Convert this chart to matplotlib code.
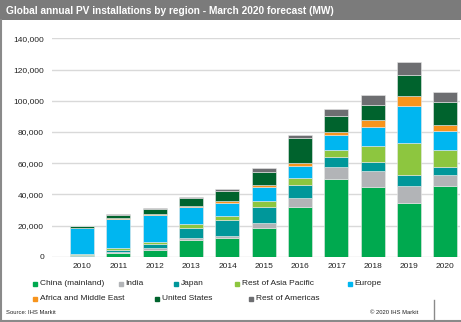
import numpy as np
import matplotlib
matplotlib.use("Agg")
import matplotlib.pyplot as plt
from matplotlib.patches import Rectangle
from matplotlib.lines import Line2D

plt.rcParams['font.family'] = ['Liberation Sans', 'DejaVu Sans']

# Annual PV installations (MW) by region
years = ["2010", "2011", "2012", "2013", "2014", "2015", "2016", "2017", "2018", "2019", "2020"]
china = [300, 2200, 4500, 10900, 12200, 18200, 32000, 49800, 44500, 34600, 45300]
india = [100, 600, 900, 1100, 1100, 3200, 5600, 7900, 10600, 10700, 6900]
japan = [600, 1500, 2600, 6600, 10300, 10400, 8300, 6200, 5800, 6900, 5500]
rest_apac = [800, 1100, 1300, 2600, 2800, 3800, 4500, 4500, 9900, 21000, 10900]
europe = [16500, 19000, 17500, 10900, 8000, 9000, 7700, 9800, 12200, 23300, 12200]
africa_me = [100, 700, 600, 650, 1500, 1300, 1900, 1500, 4500, 6400, 3800]
united_states = [1200, 1500, 3200, 4700, 6200, 8300, 16200, 10700, 10000, 13700, 14700]
rest_americas = [100, 600, 800, 850, 1300, 2600, 1700, 4100, 6000, 8100, 6200]

regions = ["China (mainland)", "India", "Japan", "Rest of Asia Pacific", "Europe",
           "Africa and Middle East", "United States", "Rest of Americas"]
series = [china, india, japan, rest_apac, europe, africa_me, united_states, rest_americas]
colors = ["#00a94f", "#b2b4b7", "#00979a", "#8dc63f", "#00b6f0",
          "#f7941d", "#00632d", "#6d6e71"]

W, H = 461, 322
fig = plt.figure(figsize=(W / 100, H / 100), dpi=100)

def px(x, y):
    # pixel position (from top-left) -> figure fraction
    return x / W, 1 - y / H

# title band
fig.patches.append(Rectangle(px(0, 20), 1, 20 / H, transform=fig.transFigure,
                             facecolor="#7b7b7b", edgecolor="none", zorder=0))
fig.text(*px(6, 10.5), "Global annual PV installations by region - March 2020 forecast (MW)",
         color="white", fontsize=7.3, fontweight="bold", va="center", ha="left")

# frame lines
fig.add_artist(Line2D([1 / W, 1 / W], [1 - 20 / H, 1 - 320.5 / H], transform=fig.transFigure,
                      color="#8a8a8a", lw=1.5))
fig.add_artist(Line2D([0, 1], [1 - 320.5 / H, 1 - 320.5 / H], transform=fig.transFigure,
                      color="#8a8a8a", lw=1.5))
fig.add_artist(Line2D([434 / W, 434 / W], [1 - 300 / H, 1 - 320.5 / H], transform=fig.transFigure,
                      color="#8a8a8a", lw=1.0))

ax = fig.add_axes([52 / W, 65.3 / H, 408 / W, 218.4 / H])
x = np.arange(len(years))
bottom = np.zeros(len(years))
for vals, col in zip(series, colors):
    ax.bar(x, vals, bottom=bottom, width=0.66, color=col, edgecolor="#e8e8e8",
           linewidth=0.4, zorder=3)
    bottom += np.array(vals)

ax.set_xlim(-0.83, 10.4)
ax.set_ylim(0, 140000)
ax.set_yticks(np.arange(0, 140001, 20000))
ax.set_yticklabels([f"{v:,}" for v in range(0, 140001, 20000)])
ax.set_xticks(x)
ax.set_xticklabels(years)
ax.tick_params(axis="both", length=0, labelsize=6, colors="#222222")
ax.tick_params(axis="y", pad=5.8)
ax.tick_params(axis="x", pad=4.5)
ax.grid(axis="y", color="#d9d9d9", lw=1.0, zorder=0)
for s in ax.spines.values():
    s.set_visible(False)

# legend laid out in two rows
legend_pos = [(35, 283.5), (120.5, 283.5), (176, 283.5), (237, 283.5), (350, 283.5),
              (35, 298.5), (157, 298.5), (251, 298.5)]
for (lx, ly), name, col in zip(legend_pos, regions, colors):
    fig.add_artist(Line2D([lx / W], [1 - ly / H], marker="s", markersize=3.4,
                          color=col, lw=0, transform=fig.transFigure))
    fig.text(*px(lx + 4.5, ly), name, fontsize=6, va="center", ha="left", color="#222222")

fig.text(*px(6, 313), "Source: IHS Markit", fontsize=4.2, va="center", ha="left", color="#222222")
fig.text(*px(418, 313), "\u00a9 2020 IHS Markit", fontsize=4.2, va="center", ha="right", color="#222222")

fig.savefig("out.png", dpi=100, facecolor="white")
